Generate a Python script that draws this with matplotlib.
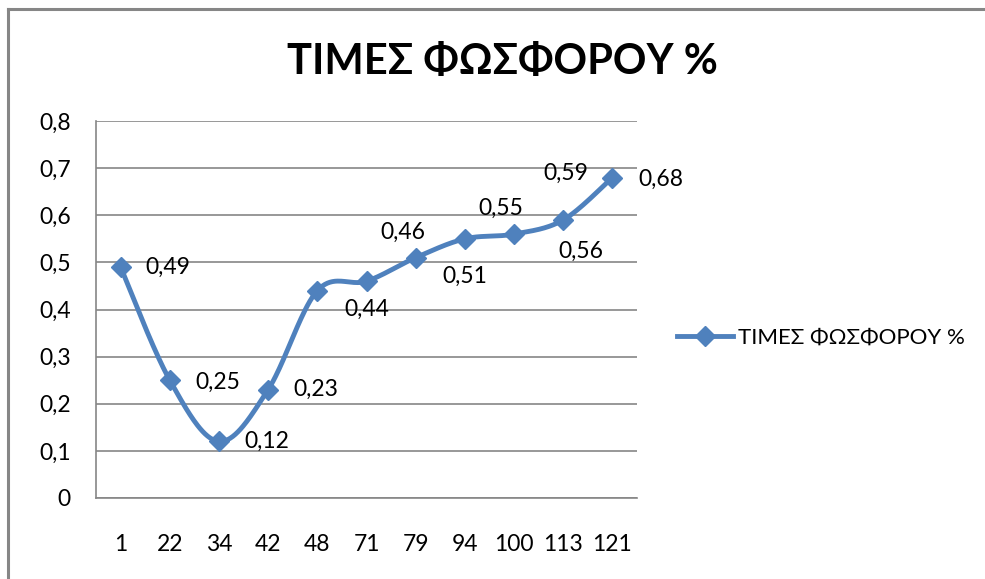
import numpy as np
import matplotlib
matplotlib.use("Agg")
import matplotlib.pyplot as plt
from matplotlib.lines import Line2D

plt.rcParams['font.family'] = ['Lato', 'DejaVu Sans']

# Sample positions and phosphorus percentages
categories = ["1", "22", "34", "42", "48", "71", "79", "94", "100", "113", "121"]
phosphorus = [0.49, 0.25, 0.12, 0.23, 0.44, 0.46, 0.51, 0.55, 0.56, 0.59, 0.68]
series_name = "ΤΙΜΕΣ ΦΩΣΦΟΡΟΥ %"
y_ticks = [0.0, 0.1, 0.2, 0.3, 0.4, 0.5, 0.6, 0.7, 0.8]

# Label offsets (pixels, relative to each marker; left edge of text)
label_offsets = [(25, 0), (26, -2), (25, 0), (25, 0), (27, -19), (14, 49),
                 (27, -19), (14, 30), (44, -17), (-20, 47), (26, -2)]

BLUE = "#4F81BD"
GRID = "#868686"
W, H = 985, 579
LABEL_SIZE = 16.5

fig = plt.figure(figsize=(W / 100, H / 100), dpi=100)
fig.patch.set_facecolor("white")

# Outer chart frame (top and left edges visible)
fig.add_artist(Line2D([7.5 / W, 1.0], [1 - 9 / H, 1 - 9 / H], color=GRID,
                      lw=2.2, transform=fig.transFigure))
fig.add_artist(Line2D([7.5 / W, 7.5 / W], [0.0, 1 - 9 / H], color=GRID,
                      lw=2.2, transform=fig.transFigure))

left, right, top, bottom = 96, 637, 121, 498
ax = fig.add_axes([left / W, 1 - bottom / H, (right - left) / W, (bottom - top) / H])

x = np.arange(len(categories))
ax.set_xlim(-0.5, len(categories) - 0.5)
ax.set_ylim(0, 0.8)

for s in ("top", "right"):
    ax.spines[s].set_visible(False)
for s in ("left", "bottom"):
    ax.spines[s].set_color(GRID)
    ax.spines[s].set_linewidth(1.2)

ax.set_yticks(y_ticks)
ax.set_yticklabels([f"{v:.1f}".replace(".", ",") if v else "0" for v in y_ticks])
ax.set_xticks(x)
ax.set_xticklabels(categories)
ax.tick_params(axis="both", length=0, labelsize=LABEL_SIZE, colors="#000000")
ax.tick_params(axis="y", pad=18)
ax.tick_params(axis="x", pad=26)
ax.yaxis.grid(True, color=GRID, lw=1.2)
ax.set_axisbelow(True)

# Smoothed line: Catmull-Rom spline computed in display space
fig.canvas.draw()
pts = ax.transData.transform(np.column_stack([x, phosphorus]))
padded = np.vstack([pts[0], pts, pts[-1]])
curve = []
for i in range(len(pts) - 1):
    p0, p1, p2, p3 = padded[i], padded[i + 1], padded[i + 2], padded[i + 3]
    c1 = p1 + (p2 - p0) / 6
    c2 = p2 - (p3 - p1) / 6
    t = np.linspace(0, 1, 40)[:, None]
    seg = ((1 - t) ** 3) * p1 + 3 * ((1 - t) ** 2) * t * c1 + 3 * (1 - t) * t ** 2 * c2 + t ** 3 * p2
    curve.append(seg if i == 0 else seg[1:])
curve = ax.transData.inverted().transform(np.vstack(curve))
ax.plot(curve[:, 0], curve[:, 1], color=BLUE, lw=3.5, solid_capstyle="round", zorder=3)
ax.plot(x, phosphorus, linestyle="none", marker="D", markersize=10,
        color=BLUE, zorder=4)

for xi, v, (dx, dy) in zip(x, phosphorus, label_offsets):
    ax.annotate(f"{v:.2f}".replace(".", ","), (xi, v), xytext=(dx, dy),
                textcoords="offset pixels", ha="left", va="center",
                fontsize=LABEL_SIZE, color="#000000", annotation_clip=False)

fig.text(502 / W, 1 - 62 / H, series_name, ha="center", va="center",
         fontsize=30, fontweight="bold", color="#000000")

handle = Line2D([], [], color=BLUE, lw=3.5, marker="D", markersize=10)
fig.legend([handle], [series_name], loc="center left",
           bbox_to_anchor=(677 / W, 1 - 338 / H), frameon=False,
           fontsize=16, handlelength=2.5, handletextpad=0.25,
           borderaxespad=0, borderpad=0)

fig.savefig("out.png", dpi=100, facecolor="white")
